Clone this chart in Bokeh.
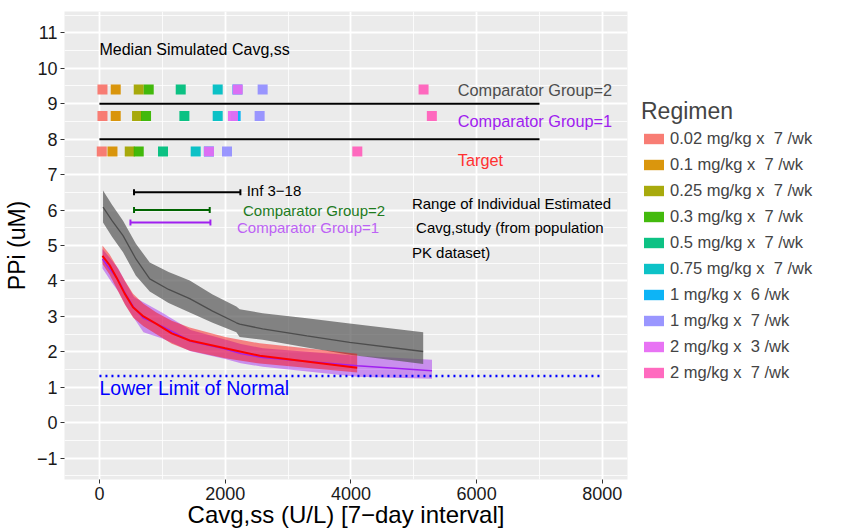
import numpy as np
from bokeh.plotting import figure
from bokeh.models import Range1d, FixedTicker, Legend, LegendItem
from bokeh.core.properties import value
from bokeh.embed import file_html
from bokeh.resources import INLINE

FONT = "Liberation Sans"

# ---------------- data ----------------
regimens = ["0.02 mg/kg x  7 /wk", "0.1 mg/kg x  7 /wk", "0.25 mg/kg x  7 /wk",
            "0.3 mg/kg x  7 /wk", "0.5 mg/kg x  7 /wk", "0.75 mg/kg x  7 /wk",
            "1 mg/kg x  6 /wk", "1 mg/kg x  7 /wk", "2 mg/kg x  3 /wk", "2 mg/kg x  7 /wk"]
regimen_colors = ["#F8766D", "#D89000", "#A3A500", "#39B600", "#00BF7D",
                  "#00BFC4", "#00B0F6", "#9590FF", "#E76BF3", "#FF62BC"]
# median simulated Cavg,ss per regimen and population
cavg_cg2 = [48, 259, 625, 784, 1293, 1881, 2195, 2596, 2199, 5156]
cavg_cg1 = [48, 259, 598, 741, 1351, 1881, 2167, 2548, 2124, 5288]
cavg_target = [37, 207, 482, 625, 1011, 1531, 1740, 2029, 1742, 4102]
row_levels = [9.4, 8.65, 7.65]
row_labels = ["Comparator Group=2", "Comparator Group=1", "Target"]
row_label_y = [9.4, 8.5, 7.4]
row_label_colors = ["#4D4D4D", "#A020F0", "#FF3030"]
separator_y = [9, 8]
separator_x = [0, 7000]

# range of individual estimated Cavg,study
range_labels = ["Inf 3\u221218", "Comparator Group=2", "Comparator Group=1"]
range_lo = [550, 550, 493]
range_hi = [2242, 1754, 1765]
range_y = [6.5, 6.0, 5.65]
range_label_x = [2342, 2283, 2188]
range_label_y = [6.55, 5.98, 5.5]
range_colors = ["#000000", "#006400", "#A020F0"]
range_label_colors = ["#000000", "#1E7B1E", "#BD62F5"]

# PPi vs Cavg,ss curves (median and interval)
cg2_x = [57, 200, 375, 580, 800, 1100, 1436, 1800, 2178, 2230, 2596, 3300, 3980, 5150]
cg2_med = [6.08, 5.70, 5.28, 4.62, 4.06, 3.76, 3.50, 3.15, 2.82, 2.78, 2.65, 2.45, 2.27, 2.01]
cg2_up = [6.55, 6.15, 5.70, 5.05, 4.52, 4.25, 4.01, 3.62, 3.28, 3.20, 3.09, 2.95, 2.80, 2.55]
cg2_lo = [5.65, 5.25, 4.81, 4.15, 3.70, 3.38, 3.11, 2.82, 2.55, 2.42, 2.34, 2.12, 1.92, 1.66]

cg1_x = [48, 180, 300, 420, 550, 700, 1000, 1450, 2000, 2250, 2600, 4100, 5290]
cg1_med = [4.62, 4.30, 4.02, 3.62, 3.25, 2.95, 2.72, 2.30, 2.08, 1.95, 1.84, 1.61, 1.47]
cg1_up = [4.90, 4.62, 4.35, 3.95, 3.55, 3.40, 3.10, 2.62, 2.35, 2.22, 2.10, 1.89, 1.78]
cg1_lo = [4.35, 4.00, 3.70, 3.30, 2.95, 2.55, 2.38, 2.02, 1.80, 1.68, 1.58, 1.30, 1.24]

tgt_x = [48, 160, 270, 400, 534, 700, 906, 1150, 1436, 2000, 2550, 4100]
tgt_med = [4.71, 4.45, 4.10, 3.65, 3.26, 3.00, 2.79, 2.52, 2.32, 2.10, 1.89, 1.55]
tgt_up = [5.00, 4.75, 4.42, 4.02, 3.64, 3.36, 3.11, 2.88, 2.69, 2.42, 2.24, 1.95]
tgt_lo = [4.48, 4.18, 3.80, 3.35, 2.97, 2.72, 2.50, 2.23, 2.03, 1.82, 1.67, 1.42]

lln = 1.32
lln_x = [0, 8000]

x_ticks = [0, 2000, 4000, 6000, 8000]
x_minor = [1000, 3000, 5000, 7000]
y_ticks = list(range(-1, 12))
y_minor = [v + 0.5 for v in range(-2, 12)]

# ---------------- figure ----------------
p = figure(frame_width=563, height=530,
           x_range=Range1d(-556, 8400), y_range=Range1d(-1.6, 11.6),
           output_backend="svg", toolbar_location=None,
           background_fill_color="#EBEBEB", border_fill_color="white",
           outline_line_color=None,
           min_border_left=57, min_border_top=11, min_border_right=0, min_border_bottom=0,
           x_axis_label="Cavg,ss (U/L) [7\u2212day interval]", y_axis_label="PPi (uM)")

p.xaxis.ticker = FixedTicker(ticks=x_ticks, minor_ticks=x_minor)
p.yaxis.ticker = FixedTicker(ticks=y_ticks, minor_ticks=y_minor)
p.yaxis.major_label_overrides = {-1: "\u22121"}
for ax in (p.xaxis[0], p.yaxis[0]):
    ax.axis_line_color = None
    ax.major_tick_line_color = "#333333"
    ax.major_tick_out = 4
    ax.major_tick_in = 0
    ax.minor_tick_line_color = None
    ax.major_label_text_font = FONT
    ax.major_label_text_font_size = "18px"
    ax.major_label_text_color = "#1A1A1A"
    ax.axis_label_text_font = FONT
    ax.axis_label_text_font_style = "normal"
    ax.axis_label_text_color = "#000000"
p.xaxis.major_label_standoff = 3
p.xaxis.axis_label_standoff = -2
p.xaxis.axis_label_text_font_size = "24px"
p.yaxis.major_label_standoff = 3
p.yaxis.axis_label_standoff = 4
p.yaxis.axis_label_text_font_size = "23px"

p.grid.grid_line_color = "white"
p.grid.grid_line_width = 1.8
p.grid.minor_grid_line_color = "white"
p.grid.minor_grid_line_width = 0.8

# bands
p.varea(x=cg1_x, y1=cg1_lo, y2=cg1_up, fill_color="#A020F0", fill_alpha=0.45)
p.varea(x=cg2_x, y1=cg2_lo, y2=cg2_up, fill_color="#555555", fill_alpha=0.7)
p.varea(x=tgt_x, y1=tgt_lo, y2=tgt_up, fill_color="#FF0000", fill_alpha=0.45)
p.line(cg2_x, cg2_med, line_color="#4D4D4D", line_width=1.3)
p.line(cg1_x, cg1_med, line_color="#A020F0", line_width=1.5)
p.line(tgt_x, tgt_med, line_color="#FF0000", line_width=2)

# lower limit of normal
p.line(lln_x, [lln, lln], line_color="#0000FF", line_width=2.5, line_dash="2 4")
p.text(x=[0], y=[0.98], text=["Lower Limit of Normal"], text_font=value(FONT),
       text_font_size=value("19.5px"), text_color="#0000FF", text_baseline="middle")

# separators between populations
p.segment(x0=[separator_x[0]] * 2, y0=separator_y, x1=[separator_x[1]] * 2, y1=separator_y,
          line_color="black", line_width=2)

# median simulated Cavg squares
items = []
for i, reg in enumerate(regimens):
    r = p.rect(x=[cavg_cg2[i], cavg_cg1[i], cavg_target[i]], y=row_levels,
               width=10, height=10, width_units="screen", height_units="screen",
               fill_color=regimen_colors[i], fill_alpha=0.95, line_color=None)
    items.append(LegendItem(label=reg, renderers=[r]))

p.text(x=[5700] * 3, y=row_label_y, text=row_labels, text_font=value(FONT),
       text_font_size=value("16.3px"), text_color=row_label_colors, text_baseline="middle")
p.text(x=[0], y=[10.52], text=["Median Simulated Cavg,ss"], text_font=value(FONT),
       text_font_size=value("16px"), text_color="black", text_baseline="middle")

# ranges of individual estimates
p.segment(x0=range_lo, y0=range_y, x1=range_hi, y1=range_y, line_color=range_colors, line_width=2)
p.scatter(x=range_lo + range_hi, y=range_y + range_y, marker="dash", angle=np.pi / 2, size=6,
          line_color=range_colors + range_colors, line_width=2)
p.text(x=range_label_x, y=range_label_y, text=range_labels, text_font=value(FONT),
       text_font_size=value("15px"), text_color=range_label_colors, text_baseline="middle")
p.text(x=[4970], y=[5.5],
       text=["Range of Individual Estimated\n\u00a0Cavg,study (from population\nPK dataset)"],
       text_font=value(FONT), text_font_size=value("15px"), text_color="black",
       text_baseline="middle", text_line_height=1.45)

legend = Legend(items=items, title="Regimen", location=(14, 97),
                margin=0, padding=8, spacing=6, label_height=20,
                glyph_width=25, glyph_height=13, label_standoff=4,
                label_text_font=FONT, label_text_font_size="16.5px",
                title_text_font=FONT, title_text_font_size="23px",
                title_text_font_style="normal", title_standoff=3,
                border_line_color=None, background_fill_alpha=0)
p.add_layout(legend, "right")

open("out.html", "w").write(file_html(p, INLINE))
